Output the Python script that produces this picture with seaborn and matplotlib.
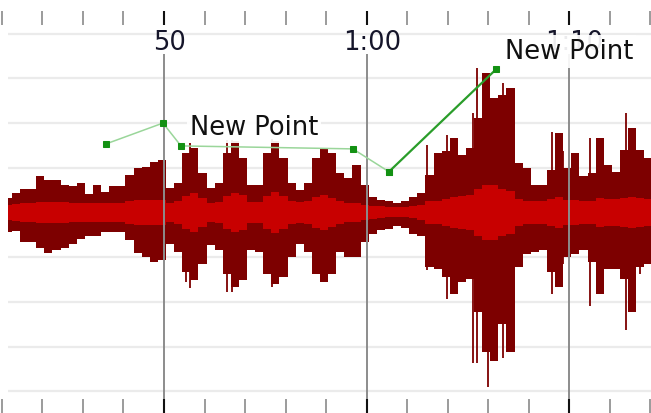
import matplotlib
matplotlib.use("Agg")

import numpy as np
import matplotlib.pyplot as plt
import matplotlib.transforms as mtransforms
import seaborn as sns

# waveform peaks, sampled every 0.4 s from 42.3 s (amplitude units, grid every 45)
wave_t0 = 42.3
wave_dt = 0.4
wave_top = [15, 20, 24, 24, 37, 33, 33, 28, 27, 30,
            19, 28, 21, 27, 27, 38, 45, 46, 51, 53,
            25, 30, 60, 65, 40, 25, 30, 60, 72, 55,
            28, 28, 60, 72, 55, 30, 23, 30, 55, 65,
            60, 40, 35, 48, 28, 16, 13, 12, 10, 12,
            16, 20, 38, 60, 62, 75, 58, 65, 95, 140,
            115, 118, 125, 50, 45, 28, 28, 43, 80, 45,
            60, 37, 40, 75, 48, 41, 63, 85, 63, 55,
            55]
wave_bottom = [20, 19, 30, 30, 36, 41, 38, 36, 32, 27,
               24, 24, 20, 20, 20, 28, 41, 45, 50, 48,
               32, 40, 60, 68, 52, 33, 38, 62, 75, 68,
               38, 40, 62, 72, 65, 45, 32, 40, 62, 70,
               62, 40, 45, 45, 30, 22, 18, 17, 14, 16,
               22, 24, 55, 57, 65, 82, 70, 67, 100, 140,
               150, 112, 140, 55, 42, 40, 38, 60, 75, 45,
               42, 38, 50, 82, 57, 57, 67, 100, 55, 52,
               52]
wave_rms = [8, 9, 10, 10, 11, 11, 11, 11, 10, 10,
            10, 10, 10, 10, 10, 12, 13, 13, 13, 13,
            10, 12, 17, 20, 15, 10, 11, 17, 20, 18,
            11, 11, 17, 21, 17, 12, 11, 12, 16, 18,
            15, 12, 10, 10, 8, 7, 6, 5, 5, 5,
            6, 8, 12, 12, 14, 16, 17, 18, 24, 28,
            28, 24, 22, 14, 12, 12, 12, 14, 16, 13,
            13, 12, 12, 15, 14, 14, 15, 16, 15, 14,
            13]

# isolated tall peaks
spike_t = [51.09, 51.28, 53.11, 53.35, 55.33, 62.97, 63.96, 65.24, 65.44,
           65.98, 66.72, 69.14, 69.68, 71.02, 72.79, 73.48]
spike_top = [55, 70, 73, 73, 74, 68, 78, 100, 145,
             138, 130, 81, 62, 75, 100, 63]
spike_bottom = [70, 76, 80, 80, 75, 58, 87, 152, 152,
                176, 147, 82, 52, 94, 118, 62]

# volume envelope points
env_t = [47.14, 49.95, 50.84, 59.32, 61.10, 66.38]
env_level = [69, 90, 67, 64, 41, 144]
env_labels = {1: "New Point", 5: "New Point"}

major_t = [50, 60, 70]
major_labels = ["50", "1:00", "1:10"]
minor_t = list(range(42, 76, 2))

W, H = 651, 414
X0, X1 = 41.91, 74.03
YTOP, YBOT = 214.9, -201.9

sns.set_style("white")
plt.rcParams["font.family"] = ["DejaVu Sans"]

fig = plt.figure(figsize=(W / 100, H / 100), dpi=100)
ax = fig.add_axes([0, 0, 1, 1])
ax.set_xlim(X0, X1)
ax.set_ylim(YBOT, YTOP)
ax.axis("off")


def px_x(x):
    return X0 + x / W * (X1 - X0)


def px_y(y):
    return YTOP - y / H * (YTOP - YBOT)


# horizontal grid
for g in [45, 90, 135, 180]:
    for s in (1, -1):
        ax.hlines(s * g, px_x(8), X1, color="#ebebeb", lw=1.6, zorder=1)

# waveform
t = wave_t0 + wave_dt * np.arange(len(wave_top))
top = np.array(wave_top)
bot = -np.array(wave_bottom)
rms = np.array(wave_rms)
ax.fill_between(t, bot, top, step="mid", color="#7d0000", lw=0, zorder=2)
ax.vlines(spike_t, -np.array(spike_bottom), spike_top, color="#7d0000", lw=1.3, zorder=2)
ax.fill_between(t, -rms, rms, step="mid", color="#c80000", lw=0, zorder=3)

# time ruler
trans = mtransforms.blended_transform_factory(ax.transData, ax.transAxes)
ax.vlines(minor_t, 1 - 26 / H, 1 - 12 / H, color="#8a8a8a", lw=1.2, transform=trans, zorder=4)
ax.vlines(minor_t, 0, 14 / H, color="#8a8a8a", lw=1.2, transform=trans, zorder=4)
ax.vlines(major_t, 1 - 26 / H, 1 - 12 / H, color="#111111", lw=1.5, transform=trans, zorder=5)
ax.vlines(major_t, 0, 14 / H, color="#111111", lw=1.5, transform=trans, zorder=5)
ax.vlines(major_t, 14 / H, 1 - 55 / H, color="#8c8c8c", lw=1.4, transform=trans, zorder=4)
for mt, lab in zip(major_t, major_labels):
    ax.text(mt + 0.25, px_y(43), lab, ha="center", va="center", fontsize=18.5,
            color="#15152a", zorder=6)

# envelope
sns.lineplot(x=env_t[:5], y=env_level[:5], ax=ax, color="#9ad69a", lw=1.1,
             marker="s", markersize=4.5, markerfacecolor="#139113",
             markeredgecolor="#139113", zorder=7)
sns.lineplot(x=env_t[4:], y=env_level[4:], ax=ax, color="#2a9d2a", lw=1.6,
             marker="s", markersize=4.5, markerfacecolor="#139113",
             markeredgecolor="#139113", zorder=7)

offsets = {1: (27, -4), 5: (9, 18)}
for i, lab in env_labels.items():
    ax.annotate(lab, (env_t[i], env_level[i]), xytext=offsets[i],
                textcoords="offset pixels", ha="left", va="center",
                fontsize=18.5, color="#111111", zorder=8,
                bbox=dict(boxstyle="square,pad=0.12", fc="white", ec="none", alpha=0.92))

fig.savefig("out.png", dpi=100)
plt.close(fig)
